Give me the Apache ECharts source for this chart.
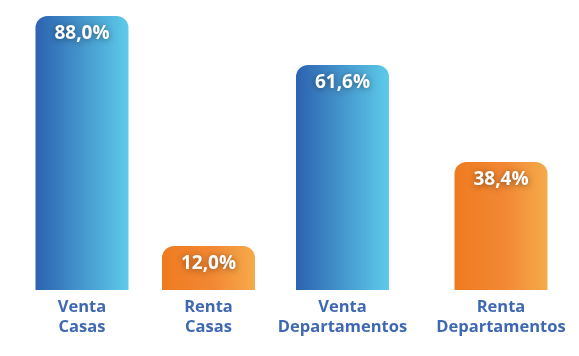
<!DOCTYPE html>
<html>
<head>
<meta charset="utf-8">
<script src="https://cdn.jsdelivr.net/npm/echarts@6/dist/echarts.min.js"></script>
<style>html,body{margin:0;padding:0;background:#fff}#c{width:579px;height:356px}</style>
</head>
<body>
<div id="c"></div>
<script>
const categories = ['Venta\nCasas', 'Renta\nCasas', 'Venta\nDepartamentos', 'Renta\nDepartamentos'];
const values = [88.0, 12.0, 61.6, 38.4];
const kinds = ['venta', 'renta', 'venta', 'renta'];

// layout (not data): the reference uses a separate, non-proportional scale for each pair
const centers = [82, 208.5, 342.5, 501];
const axisType = ['log', 'log', 'value', 'value'];
const axisMin = [8.2, 8.2, 7.8, 7.8];
const axisMax = [88, 88, 73.3, 73.3];
const gradients = {
  venta: [{offset: 0, color: '#2c62b0'}, {offset: 1, color: '#5dcbea'}],
  renta: [{offset: 0, color: '#ef7b20'}, {offset: 0.55, color: '#f28834'}, {offset: 1, color: '#f5ab49'}]
};

const grids = [], xAxes = [], yAxes = [], series = [];
categories.forEach((cat, i) => {
  grids.push({left: centers[i] - 75, width: 150, top: 16, bottom: 66, containLabel: false});
  xAxes.push({
    type: 'category', gridIndex: i, data: [cat],
    axisLine: {show: false, onZero: false}, axisTick: {show: false},
    axisLabel: {
      margin: 7, color: '#3f68b2', fontFamily: 'Open Sans', fontWeight: 'bold',
      fontSize: 16.5, lineHeight: 20.5, interval: 0
    }
  });
  yAxes.push({type: axisType[i], logBase: 10, gridIndex: i, min: axisMin[i], max: axisMax[i], show: false, splitLine: {show: false}});
  series.push({
    type: 'bar', xAxisIndex: i, yAxisIndex: i, data: [values[i]], barWidth: 93, clip: true,
    itemStyle: {
      borderRadius: [12, 12, 0, 0],
      color: new echarts.graphic.LinearGradient(0, 0, 1, 0, gradients[kinds[i]])
    },
    label: {
      show: true, position: 'insideTop', distance: 8,
      formatter: p => p.value.toFixed(1).replace('.', ',') + '%',
      color: '#fff', fontFamily: 'Open Sans', fontWeight: 'bold', fontSize: 19,
      textShadowColor: 'rgba(0,0,0,0.45)', textShadowBlur: 6, textShadowOffsetY: 1
    }
  });
});

const chart = echarts.init(document.getElementById('c'));
chart.setOption({animation: false, grid: grids, xAxis: xAxes, yAxis: yAxes, series});
</script>
</body>
</html>
